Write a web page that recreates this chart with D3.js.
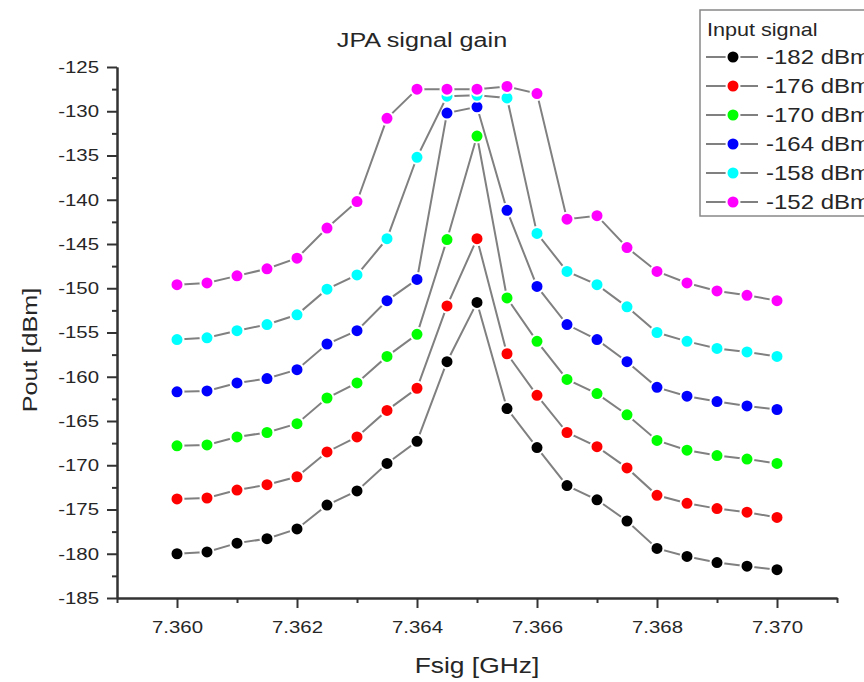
<!DOCTYPE html>
<meta charset="utf-8">
<title>JPA signal gain</title>
<style>
*{ margin: 0; padding: 0; }
body{ background: #fff; font-family: "Liberation Sans", Arial, sans-serif; overflow: hidden; }
.axis path, .axis line{ stroke: #333; stroke-width: 2; }
.axis text{ fill: #262626; font-size: 17px; font-family: "Liberation Sans", Arial, sans-serif; }
.series path{ fill: none; stroke: #808080; stroke-width: 2; }
</style>
<body>
<script src="https://d3js.org/d3.v7.min.js"></script>
<div id="chart"></div>
<script>

// frequencies (GHz)
var freqs = [7.3600, 7.3605, 7.3610, 7.3615, 7.3620, 7.3625, 7.3630, 7.3635, 7.3640, 7.3645, 7.3650,
             7.3655, 7.3660, 7.3665, 7.3670, 7.3675, 7.3680, 7.3685, 7.3690, 7.3695, 7.3700];

// Pout [dBm] for each input power
var pout182 = [-180.0, -179.8, -178.8, -178.3, -177.2, -174.5, -172.9, -169.8, -167.3, -158.3, -151.6,
               -163.6, -168.0, -172.3, -173.9, -176.3, -179.4, -180.3, -181.0, -181.4, -181.8];
var pout176 = [-173.8, -173.7, -172.8, -172.2, -171.3, -168.5, -166.8, -163.8, -161.3, -152.0, -144.4,
               -157.4, -162.1, -166.3, -167.9, -170.3, -173.4, -174.3, -174.9, -175.3, -175.9];
var pout170 = [-167.8, -167.7, -166.8, -166.3, -165.3, -162.4, -160.7, -157.7, -155.2, -144.5, -132.8,
               -151.1, -156.0, -160.3, -161.9, -164.3, -167.2, -168.3, -168.9, -169.3, -169.8];
var pout164 = [-161.7, -161.6, -160.7, -160.2, -159.2, -156.3, -154.8, -151.4, -149.0, -130.2, -129.5,
               -141.2, -149.8, -154.1, -155.8, -158.3, -161.2, -162.2, -162.8, -163.3, -163.7];
var pout158 = [-155.8, -155.6, -154.8, -154.1, -153.0, -150.1, -148.5, -144.4, -135.2, -128.3, -128.2,
               -128.5, -143.8, -148.1, -149.6, -152.1, -155.0, -156.0, -156.8, -157.2, -157.7];
var pout152 = [-149.6, -149.4, -148.6, -147.8, -146.6, -143.2, -140.2, -130.8, -127.5, -127.5, -127.5,
               -127.2, -128.0, -142.2, -141.8, -145.4, -148.1, -149.4, -150.3, -150.8, -151.4];

var seriesLabels = ["-182 dBm", "-176 dBm", "-170 dBm", "-164 dBm", "-158 dBm", "-152 dBm"];
var seriesColors = ["#000000", "#ff0000", "#00ff00", "#0000ff", "#00ffff", "#ff00ff"];
var seriesValues = [pout182, pout176, pout170, pout164, pout158, pout152];

var xTicks = [7.360, 7.362, 7.364, 7.366, 7.368, 7.370];
var xMinor = [7.359, 7.361, 7.363, 7.365, 7.367, 7.369, 7.371];
var yTicks = [-185, -180, -175, -170, -165, -160, -155, -150, -145, -140, -135, -130, -125];
var yMinor = [-182.5, -177.5, -172.5, -167.5, -162.5, -157.5, -152.5, -147.5, -142.5, -137.5, -132.5, -127.5];

var width = 864, height = 682;
var plotLeft = 117, plotRight = 837, plotTop = 67, plotBottom = 598;
var stretch = 1.2; // the original text is a bit wide

var svg = d3.select("#chart").append("svg")
    .attr("width", width)
    .attr("height", height);

var x = d3.scaleLinear().domain([7.359, 7.371]).range([plotLeft, plotRight]);
var y = d3.scaleLinear().domain([-185, -125]).range([plotBottom, plotTop]);

// axes - minor ticks first, then major
svg.append("g").attr("class", "axis")
  .attr("transform", "translate(0," + plotBottom + ")")
  .call(d3.axisBottom(x).tickValues(xMinor).tickSize(5).tickSizeOuter(0).tickFormat(""));
var xAxis = svg.append("g").attr("class", "axis")
  .attr("transform", "translate(0," + plotBottom + ")")
  .call(d3.axisBottom(x).tickValues(xTicks).tickSize(10).tickSizeOuter(0).tickPadding(10)
    .tickFormat(function(d){ return d.toFixed(3); }));
xAxis.selectAll("text")
  .attr("y", null).attr("dy", null)
  .attr("transform", "translate(0,35) scale(" + stretch + ",1)");

svg.append("g").attr("class", "axis")
  .attr("transform", "translate(" + plotLeft + ",0)")
  .call(d3.axisLeft(y).tickValues(yMinor).tickSize(5).tickSizeOuter(0).tickFormat(""));
var yAxis = svg.append("g").attr("class", "axis")
  .attr("transform", "translate(" + plotLeft + ",0)")
  .call(d3.axisLeft(y).tickValues(yTicks).tickSize(10).tickSizeOuter(0)
    .tickFormat(function(d){ return String(d); }));
yAxis.selectAll("text")
  .attr("x", null)
  .attr("transform", "translate(-18,0) scale(" + stretch + ",1)");

// titles
function stretchedText(tx, ty, size, str, rot) {
  return svg.append("text")
    .attr("transform", "translate(" + tx + "," + ty + ")" + (rot ? " rotate(" + rot + ")" : "") + " scale(" + stretch + ",1)")
    .attr("text-anchor", "middle")
    .attr("fill", "#262626")
    .style("font-size", size + "px")
    .text(str);
}
stretchedText(422, 47, 21, "JPA signal gain");
stretchedText(477, 673, 22, "Fsig [GHz]");
stretchedText(37, 350, 21, "Pout [dBm]", -90);

// data
var line = d3.line()
  .x(function(d, i){ return x(freqs[i]); })
  .y(function(d){ return y(d); });

var groups = svg.selectAll(".series")
  .data(seriesValues)
  .enter().append("g")
  .attr("class", "series");

groups.append("path").attr("d", line);

groups.each(function(vals, k){
  d3.select(this).selectAll("circle")
    .data(vals)
    .enter().append("circle")
    .attr("cx", function(d, i){ return x(freqs[i]); })
    .attr("cy", function(d){ return y(d); })
    .attr("r", 6.5)
    .attr("fill", seriesColors[k])
    .attr("stroke", "#fff")
    .attr("stroke-width", 2);
});

// legend
var legend = svg.append("g").attr("transform", "translate(700,10)");
legend.append("rect")
  .attr("x", 0).attr("y", 0)
  .attr("width", 180).attr("height", 206)
  .attr("fill", "#fff")
  .attr("stroke", "#888")
  .attr("stroke-width", 1.5);
legend.append("text")
  .attr("transform", "translate(7,26) scale(" + stretch + ",1)")
  .attr("fill", "#262626")
  .style("font-size", "18px")
  .text("Input signal");

var rows = legend.selectAll(".row")
  .data(seriesLabels)
  .enter().append("g")
  .attr("transform", function(d, i){ return "translate(0," + (47 + i * 29) + ")"; });
rows.append("line")
  .attr("x1", 6).attr("x2", 58)
  .attr("stroke", "#808080").attr("stroke-width", 2);
rows.append("circle")
  .attr("cx", 33).attr("r", 6.5)
  .attr("fill", function(d, i){ return seriesColors[i]; })
  .attr("stroke", "#fff").attr("stroke-width", 2);
rows.append("text")
  .attr("transform", "translate(66,0) scale(" + stretch + ",1)")
  .attr("dy", "0.35em")
  .attr("fill", "#262626")
  .style("font-size", "20px")
  .text(function(d){ return d; });

</script>
</body>
